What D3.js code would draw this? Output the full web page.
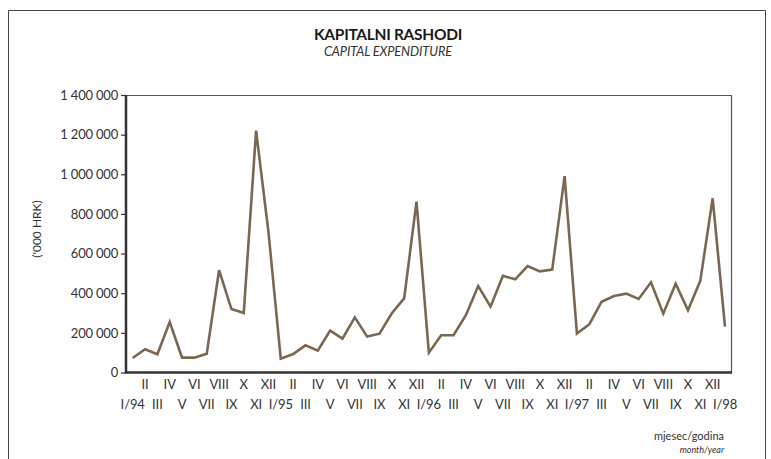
<!DOCTYPE html>
<html><head><meta charset="utf-8">
<script src="https://cdn.jsdelivr.net/npm/d3@7"></script>
<style>
html,body{margin:0;padding:0;background:#fff;}
svg{display:block;}
</style>
</head><body>
<svg id="c" width="771" height="459"></svg>
<script>
const monthLabels = ["I/94","II","III","IV","V","VI","VII","VIII","IX","X","XI","XII",
 "I/95","II","III","IV","V","VI","VII","VIII","IX","X","XI","XII",
 "I/96","II","III","IV","V","VI","VII","VIII","IX","X","XI","XII",
 "I/97","II","III","IV","V","VI","VII","VIII","IX","X","XI","XII","I/98"];
const values = [73000,117000,92000,255000,75000,75000,95000,516000,320000,300000,1220000,710000,
 70000,93000,137000,110000,211000,171000,278000,181000,196000,299000,374000,862000,
 100000,188000,188000,289000,436000,332000,488000,470000,537000,510000,519000,991000,
 196000,243000,357000,386000,398000,371000,455000,297000,448000,314000,463000,879000,231000];
const yTicks = [0,200000,400000,600000,800000,1000000,1200000,1400000];
const title = "KAPITALNI RASHODI";
const subtitle = "CAPITAL EXPENDITURE";
const yLabel = "('000 HRK)";
const xLabel1 = "mjesec/godina";
const xLabel2 = "month/year";

const svg = d3.select("#c");
const FONT = "Lato, 'Noto Sans', sans-serif";
const plot = {left:126, right:731, top:95, bottom:372.5};

// outer frame
svg.append("path").attr("d","M8.5,459 V10.5 H765.5 V459")
  .attr("fill","none").attr("stroke","#444").attr("stroke-width",1);

const x = d3.scaleLinear().domain([0, monthLabels.length-1]).range([132.7, 725]);
const y = d3.scaleLinear().domain([0,1400000]).range([plot.bottom, plot.top]);

// plot frame top/right thin
svg.append("path").attr("d",`M${plot.left},${plot.top+0.5} H${plot.right+0.5} V${plot.bottom}`)
  .attr("fill","none").attr("stroke","#555").attr("stroke-width",1.2);

// titles
svg.append("text").attr("x",388).attr("y",40).attr("text-anchor","middle")
  .attr("font-family",FONT).attr("font-weight","bold").attr("font-size",15.5)
  .attr("fill","#1a1a1a").attr("letter-spacing","-0.3").text(title);
svg.append("text").attr("x",388).attr("y",56).attr("text-anchor","middle")
  .attr("font-family",FONT).attr("font-style","italic").attr("font-size",12.8)
  .attr("fill","#333").attr("letter-spacing","-0.1").text(subtitle);

// y axis
const loc = d3.formatLocale({decimal:",", thousands:" ", grouping:[3], currency:["",""]});
const fmt = loc.format(",d");
const yAxis = d3.axisLeft(y).tickValues(yTicks).tickFormat(fmt).tickSize(5).tickPadding(3);
const gy = svg.append("g").attr("transform",`translate(${plot.left},0)`).call(yAxis);
gy.select(".domain").remove();
gy.selectAll("line").attr("stroke","#333").attr("stroke-width",1.2);
gy.selectAll("text").attr("font-family",FONT).attr("font-size",13).attr("fill","#333")
  .attr("letter-spacing","-0.2");

// axis lines (thick)
svg.append("path").attr("d",`M${plot.left},${plot.top} V${plot.bottom} H${plot.right+1}`)
  .attr("fill","none").attr("stroke","#333").attr("stroke-width",2.5);

// y label
svg.append("text").attr("transform","translate(41,229) rotate(-90)").attr("text-anchor","middle")
  .attr("font-family",FONT).attr("font-size",12).attr("fill","#333").text(yLabel);

// x labels
const gx = svg.append("g");
monthLabels.forEach((m,i)=>{
  gx.append("text").attr("x",x(i)).attr("y", i%2===1 ? 389 : 409)
    .attr("text-anchor","middle").attr("font-family",FONT).attr("font-size",13)
    .attr("fill","#333").attr("letter-spacing","-0.1").text(m);
});

// line
const line = d3.line().x((d,i)=>x(i)).y(d=>y(d));
svg.append("path").datum(values).attr("d",line).attr("fill","none")
  .attr("stroke","#7b6750").attr("stroke-width",2.6).attr("stroke-linejoin","miter");

// x label note
svg.append("text").attr("x",724).attr("y",440).attr("text-anchor","end")
  .attr("font-family",FONT).attr("font-size",11).attr("fill","#333").text(xLabel1);
svg.append("text").attr("x",724).attr("y",453).attr("text-anchor","end")
  .attr("font-family",FONT).attr("font-style","italic").attr("font-size",9).attr("fill","#333").text(xLabel2);
</script>
</body></html>
